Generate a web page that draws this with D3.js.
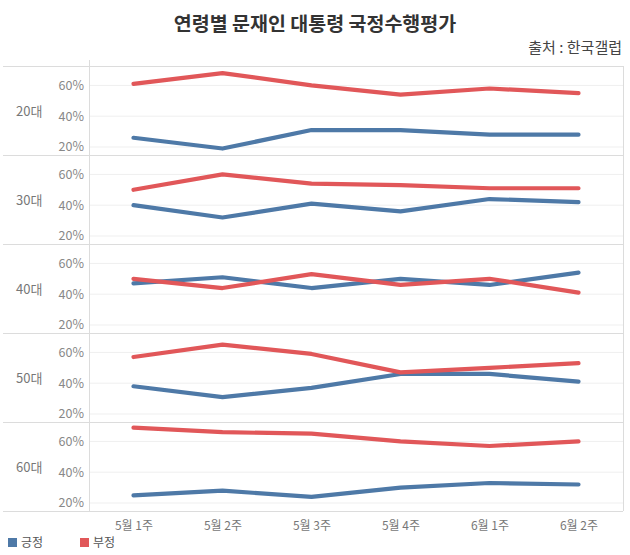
<!DOCTYPE html>
<html><head><meta charset="utf-8">
<script src="https://cdn.jsdelivr.net/npm/d3@7"></script>
<style>body{margin:0;background:#fff;}svg{display:block;font-family:"Noto Sans CJK KR","Noto Sans",sans-serif;}</style>
</head><body><svg id="c" width="630" height="555"></svg>
<script>
const weeks = ["5월 1주","5월 2주","5월 3주","5월 4주","6월 1주","6월 2주"];
const ages = ["20대","30대","40대","50대","60대"];
const positive = [
  [26,19,31,31,28,28],
  [40,32,41,36,44,42],
  [47,51,44,50,46,54],
  [38,31,37,46,46,41],
  [25,28,24,30,33,32]
];
const negative = [
  [61,68,60,54,58,55],
  [50,60,54,53,51,51],
  [50,44,53,46,50,41],
  [57,65,59,47,50,53],
  [69,66,65,60,57,60]
];
const yTicks = [20,40,60];
const seriesNames = ["긍정","부정"];
const colors = ["#4e79a7","#e15759"];

const svg = d3.select("#c");
const left = 89, right = 623, top0 = 66, panelH = 89;
const x = d3.scalePoint().domain(weeks).range([left, right]).padding(0.5);
const y = d3.scaleLinear().domain([14.8, 72.6]).range([panelH, 0]);

svg.append("text").attr("x",315).attr("y",31).attr("text-anchor","middle")
  .attr("font-size",19.5).attr("font-weight","bold").attr("fill","#333").text("연령별 문재인 대통령 국정수행평가");
svg.append("text").attr("x",622).attr("y",53).attr("text-anchor","end")
  .attr("font-size",15).attr("fill","#444").text("출처 : 한국갤럽");

const line = d3.line().x((d,i)=>x(weeks[i])).y(d=>y(d));

ages.forEach((age,k)=>{
  const g = svg.append("g").attr("transform",`translate(0,${top0+k*panelH})`);
  g.selectAll("line.grid").data(yTicks).join("line")
    .attr("x1",left).attr("x2",right).attr("y1",d=>y(d)).attr("y2",d=>y(d))
    .attr("stroke","#efefef").attr("stroke-width",1);
  const ax = d3.axisLeft(y).tickValues(yTicks).tickFormat(d=>d+"%").tickSize(0).tickPadding(5);
  const axg = g.append("g").attr("transform",`translate(${left},0)`).call(ax);
  axg.select(".domain").remove();
  axg.selectAll("text").attr("font-size",12.5).attr("fill","#888").attr("font-family","'Noto Sans CJK KR',sans-serif");
  g.append("text").attr("x",16).attr("y",panelH/2+5).attr("font-size",13).attr("fill","#777").text(age);
  [positive[k], negative[k]].forEach((vals,s)=>{
    g.append("path").datum(vals).attr("d",line).attr("fill","none")
      .attr("stroke",colors[s]).attr("stroke-width",4.2)
      .attr("stroke-linecap","round").attr("stroke-linejoin","round");
  });
  g.append("line").attr("x1",3).attr("x2",right).attr("y1",panelH+0.5).attr("y2",panelH+0.5)
    .attr("stroke","#dcdcdc");
});
svg.append("line").attr("x1",3).attr("x2",right).attr("y1",top0+0.5).attr("y2",top0+0.5).attr("stroke","#dcdcdc");
svg.append("line").attr("x1",left+0.5).attr("x2",left+0.5).attr("y1",60).attr("y2",top0+5*panelH).attr("stroke","#dcdcdc");
svg.append("line").attr("x1",right+0.5).attr("x2",right+0.5).attr("y1",top0).attr("y2",top0+5*panelH).attr("stroke","#dcdcdc");

const xa = svg.append("g").attr("transform",`translate(0,${top0+5*panelH})`)
  .call(d3.axisBottom(x).tickSize(0).tickPadding(10));
xa.select(".domain").remove();
xa.selectAll("text").attr("font-size",12).attr("fill","#777").attr("font-family","'Noto Sans CJK KR',sans-serif");

const lg = svg.append("g").attr("transform","translate(8,538)");
seriesNames.forEach((n,i)=>{
  const gi = lg.append("g").attr("transform",`translate(${i*72},0)`);
  gi.append("rect").attr("width",9).attr("height",9).attr("fill",colors[i]);
  gi.append("text").attr("x",13).attr("y",9).attr("font-size",12).attr("fill","#555").text(n);
});
</script></body></html>
